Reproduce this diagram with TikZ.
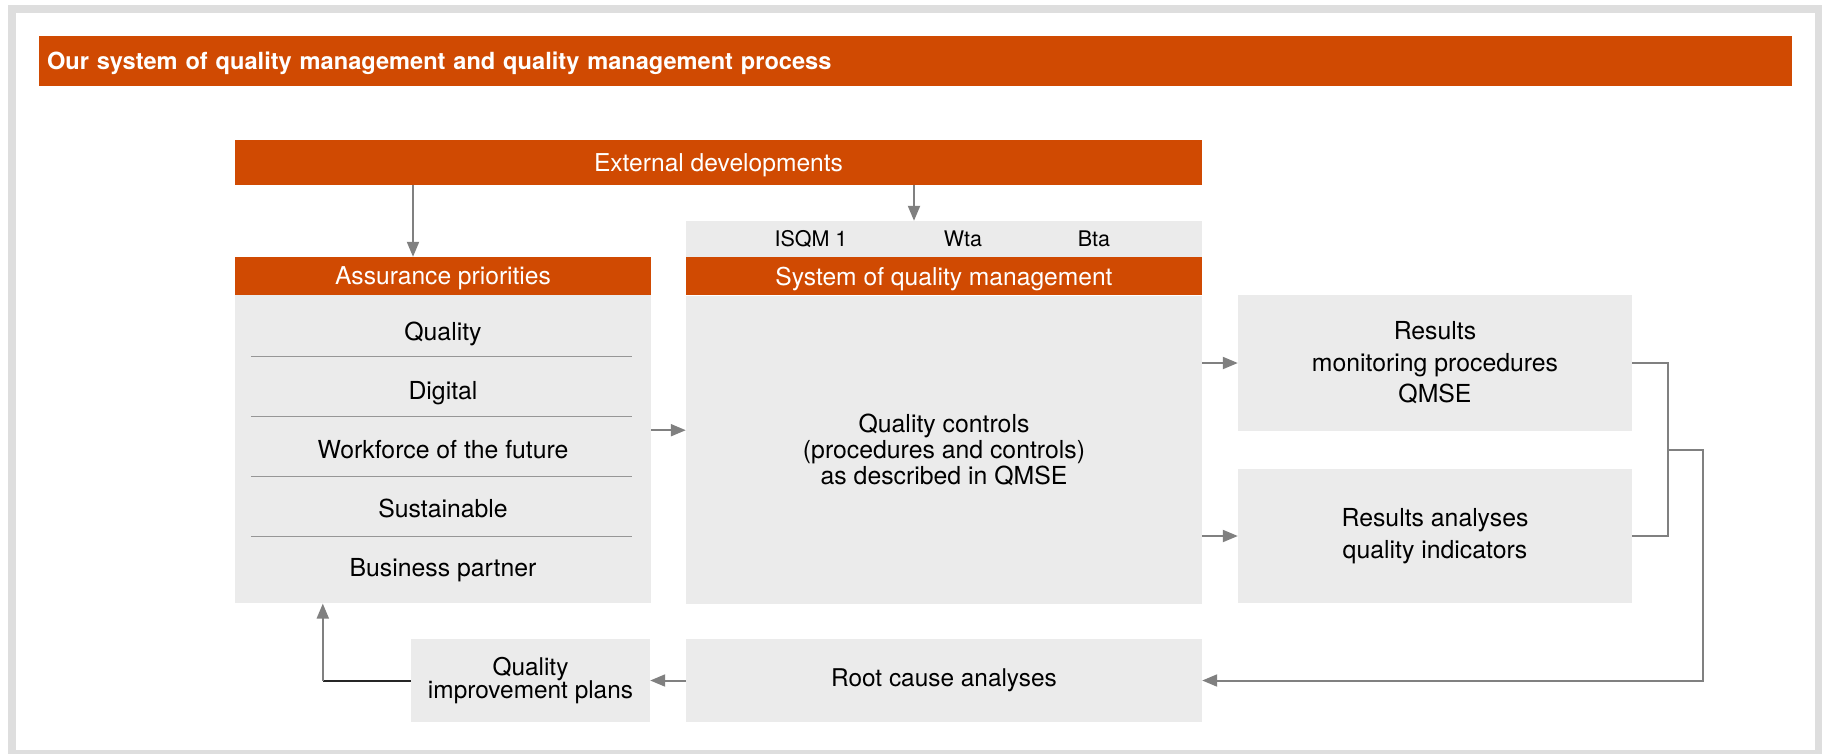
\documentclass[tikz,border=0pt]{standalone}
\usepackage{fontspec}
\setmainfont{TeX Gyre Heros}
\usepackage{tikz}
\usetikzlibrary{arrows.meta,positioning,calc}

\definecolor{qmorange}{RGB}{208,74,2}
\definecolor{boxgray}{RGB}{235,235,235}
\definecolor{framegray}{RGB}{222,222,222}
\definecolor{linkgray}{RGB}{128,128,128}
\definecolor{sepgray}{RGB}{150,150,150}

\begin{document}
\begin{tikzpicture}[x=1pt, y=-1pt,
    head/.style={fill=qmorange, text=white, inner sep=0pt,
      font=\fontsize{24.6}{28}\selectfont, text height=17.5pt, text depth=0pt},
    box/.style={fill=boxgray, text=black, inner sep=0pt, align=center,
      font=\fontsize{24.8}{26}\selectfont},
    item/.style={text=black, inner sep=0pt, font=\fontsize{24.8}{26}\selectfont},
    tag/.style={text=black, inner sep=0pt, font=\fontsize{21.5}{24}\selectfont},
    sep/.style={draw=sepgray, line width=1.5pt},
    link/.style={draw=linkgray, line width=2pt},
    arr/.style={link, -{Triangle[length=15pt, width=12pt]}}]

  \useasboundingbox (0,0) rectangle (1826,753);
  \fill[white] (0,0) rectangle (1826,753);
  % grey frame, its lower edge runs off the page
  \fill[framegray] (8,5) rectangle (1822,762);
  \fill[white] (16,13) rectangle (1815,750);

  \node[head, minimum width=1753.5pt, minimum height=49.5pt, inner xsep=8.5pt,
    text width=1736.5pt, align=left, text height=16.5pt,
    font=\bfseries\fontsize{23.6}{26}\selectfont] (title) at (915.25,60.75)
    {Our system of quality management and quality management process};

  \node[head, minimum width=967pt, minimum height=45pt] (ext) at (718.5,162.5)
    {External developments};

  % left column
  \node[head, minimum width=416pt, minimum height=38pt] (aphead) at (443,276)
    {Assurance priorities};
  \node[box, minimum width=416pt, minimum height=308pt, below=0pt of aphead] (apbody) {};
  \foreach \txt [count=\i from 0] in {Quality, Digital, Workforce of the future,
      Sustainable, Business partner}
    \node[item, anchor=base] (prio-\i) at (443,{340.5+59*\i}) {\txt};
  \foreach \k in {0,...,3}
    \draw[sep] ($(apbody.north west)+(16,61.5+60*\k)$)
      -- ($(apbody.north east)+(-19,61.5+60*\k)$);

  % middle column
  \node[box, minimum width=516pt, minimum height=36pt] (isqm) at (944,239) {};
  \foreach \txt/\x [count=\i] in {ISQM 1/811, Wta/963, Bta/1094}
    \node[tag, anchor=base] (std-\i) at (\x,246.7) {\txt};
  \node[head, minimum width=516pt, minimum height=38pt, below=0pt of isqm] (qmhead)
    {System of quality management};
  \node[box, minimum width=516pt, minimum height=308pt, below=0pt of qmhead] (qmbody)
    {Quality controls\\(procedures and controls)\\as described in QMSE};

  % right column
  \node[box, minimum width=394pt, minimum height=136pt,
    font=\fontsize{24.8}{31.5}\selectfont] (mon) at (1435,363)
    {Results\\monitoring procedures\\QMSE};
  \node[box, minimum width=394pt, minimum height=134pt,
    font=\fontsize{24.8}{32}\selectfont] (qi) at (1435,536)
    {Results analyses\\quality indicators};

  % bottom row
  \node[box, minimum width=516pt, minimum height=83pt,
    font=\fontsize{24.4}{26}\selectfont] (rca) at (944,680.5)
    {Root cause analyses};
  \node[box, minimum width=239pt, minimum height=83pt,
    font=\fontsize{24.4}{23.3}\selectfont] (qip) at (530.5,680.5)
    {Quality\\improvement plans};

  \coordinate (mid) at ($(aphead.north)!0.5!(apbody.south)$);
  \coordinate (join) at ($(mon.east)!0.5!(qi.east)+(36,0)$);
  \coordinate (turn) at ([xshift=-88pt]qip.west);

  \draw[arr] ([xshift=-30pt]aphead.north |- ext.south) -- ([xshift=-30pt]aphead.north);
  \draw[arr] ([xshift=-30pt]isqm.north |- ext.south) -- ([xshift=-30pt]isqm.north);
  \draw[arr] (apbody.east |- mid) -- (qmbody.west |- mid);
  \draw[arr] (qmbody.east |- mon.west) -- (mon.west);
  \draw[arr] (qmbody.east |- qi.west) -- (qi.west);
  \draw[link] (mon.east) -| (join) |- (qi.east);
  \draw[arr] (join) -- ++(35,0) |- (rca.east);
  \draw[arr] (rca.west) -- (qip.east);
  \draw[line width=2pt, black!85] (qip.west) -- (turn);
  \draw[arr] (turn) -- (turn |- apbody.south);
\end{tikzpicture}
\end{document}
